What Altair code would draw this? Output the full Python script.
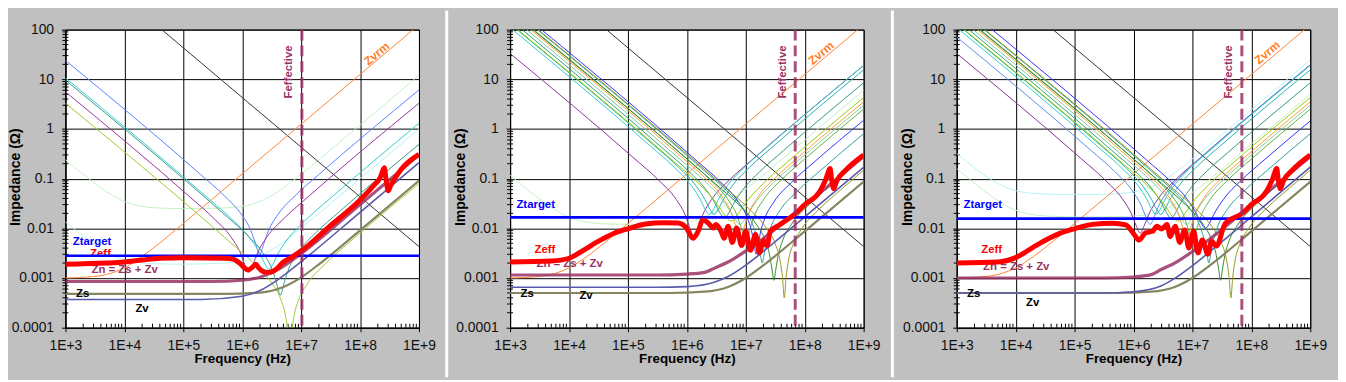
import altair as alt
import pandas as pd

FONT = "Liberation Sans"
W, H = 357, 301
TOP_EXT, BOT_EXT = 19.3, 50

# ---------------- axis ticks ----------------
X_DECADES = [1e3, 1e4, 1e5, 1e6, 1e7, 1e8, 1e9]
Y_DECADES = [1e-4, 1e-3, 1e-2, 1e-1, 1, 10, 100]
X_MINOR = [m * 10.0 ** e for e in range(3, 9) for m in range(2, 10)]
Y_MINOR = [m * 10.0 ** e for e in range(-4, 2) for m in range(2, 10)]

# ---------------- shared curves (f [Hz], |Z| [ohm]) ----------------
BLACK = [(4.3e4, 100), (1e9, 0.0043)]
ZVRM = [(1e3, 0.001), (3e3, 0.00107), (5e3, 0.00118), (1e4, 0.0016), (2e4, 0.0027),
        (4e4, 0.0051), (1e5, 0.0125), (1e6, 0.125), (8e8, 100)]

# ---------------- panel 1 ----------------
P1_BLUE = [(1e3, 24), (1.98e5, 0.12), (4.95e5, 0.0455), (9.9e5, 0.0184), (1.39e6, 0.0093), (1.68e6, 0.005),
           (1.98e6, 0.003), (2.34e6, 0.005), (2.77e6, 0.0088), (3.96e6, 0.0184), (7.92e6, 0.0455),
           (1.98e7, 0.12), (1e9, 6.1)]
P1_CYAN = [(1e3, 10.7), (2.87e5, 0.0369), (7.18e5, 0.0141), (1.43e6, 0.0058), (2.0e6, 0.0031),
           (2.44e6, 0.0019), (2.87e6, 0.0015), (3.39e6, 0.002), (4.0e6, 0.003), (5.74e6, 0.0058),
           (1.148e7, 0.0141), (2.87e7, 0.0369), (1e9, 1.3)]
P1_TEAL = [(1e3, 9.6), (4.43e5, 0.0215), (1.108e6, 0.00814), (2.2e6, 0.0033), (3.1e6, 0.00164),
           (3.77e6, 0.00084), (4.12e6, 0.00055), (4.43e6, 0.00045), (4.74e6, 0.00054), (5.23e6, 0.00085),
           (6.2e6, 0.00156), (8.86e6, 0.0033), (1.772e7, 0.00814), (4.43e7, 0.0215), (1e9, 0.49)]
P1_PURPLE = [(1e3, 5.6), (1.3e5, 0.0426), (3.25e5, 0.0161), (6.5e5, 0.0066), (9.1e5, 0.0034), (1.1e6, 0.0019),
             (1.3e6, 0.0013), (1.53e6, 0.0019), (1.82e6, 0.0032), (2.6e6, 0.0066), (5.2e6, 0.0161),
             (1.3e7, 0.0426), (1e9, 3.3)]
P1_YGREEN = [(1e3, 3.3), (6.42e5, 0.00509), (1.605e6, 0.00193), (3.21e6, 0.00077), (4.5e6, 0.000375),
             (5.46e6, 0.000168), (5.97e6, 0.0000805), (6.42e6, 0.00003), (6.87e6, 0.0000758),
             (7.58e6, 0.000171), (8.99e6, 0.000353), (1.28e7, 0.00077), (2.568e7, 0.00193),
             (6.42e7, 0.00509), (1e9, 0.08)]
P1_PALEGREEN = [(1e3, 0.24), (2e3, 0.1226), (4e3, 0.065), (1e4, 0.0347), (2e4, 0.0277), (4e4, 0.0256),
                (1e5, 0.025), (3e5, 0.0252), (1e6, 0.0277), (2e6, 0.0347), (4e6, 0.0541), (1e7, 0.1226),
                (3e7, 0.361), (1e9, 12)]
P1_PALECYAN = [(1e3, 0.0135), (2e3, 0.007), (4e3, 0.0039), (1e4, 0.0023), (3e4, 0.00195), (1e5, 0.0019),
               (5e5, 0.002), (1e6, 0.00215), (2e6, 0.0028), (4e6, 0.0044), (1e7, 0.0102), (1e8, 0.1),
               (1e9, 1.0)]
P1_ZS = [(1e3, 0.00048), (5e5, 0.00048), (2e6, 0.00051), (5e6, 0.00066), (1e7, 0.00103), (2e7, 0.00188),
         (1e8, 0.0091), (1e9, 0.091)]
P1_ZV = [(1e3, 0.00037), (2e5, 0.00037), (1e6, 0.00043), (2e6, 0.00056), (4e6, 0.00092), (1e7, 0.00213),
         (1e8, 0.021), (1e9, 0.21)]
P1_ZN = [(1e3, 0.00085), (3e5, 0.00085), (1e6, 0.0009), (2e6, 0.00104), (4e6, 0.00147), (1e7, 0.0031),
         (1e8, 0.03), (1e9, 0.3)]
P1_ZEFF = [(1e3, 0.0019), (5e3, 0.002), (1e4, 0.0021), (2e4, 0.0023), (4e4, 0.0025), (1e5, 0.00255),
           (5e5, 0.0025), (7e5, 0.0024), (9e5, 0.002), (1.1e6, 0.0016), (1.25e6, 0.00145), (1.45e6, 0.0016),
           (1.7e6, 0.0019), (1.9e6, 0.0016), (2.3e6, 0.00134), (2.8e6, 0.0013), (3.4e6, 0.00138),
           (4e6, 0.0016), (5e6, 0.0021), (6.5e6, 0.0025), (1.03e7, 0.0036), (3e7, 0.0108), (1e8, 0.037),
           (1.74e8, 0.075), (2.2e8, 0.105), (2.58e8, 0.166), (2.75e8, 0.1), (3.0e8, 0.057), (3.3e8, 0.072),
           (5e8, 0.155), (1e9, 0.31)]
P1_ZTARGET = 0.0028
P1_FEFF = 1.03e7

# ---------------- capacitor bundle shared by panels 2 and 3 ----------------
B_CYAN1 = [(1.1e3, 100), (2.41e5, 0.452), (6.03e5, 0.172), (1.205e6, 0.0712), (1.687e6, 0.0383),
           (2.05e6, 0.0241), (2.41e6, 0.019), (2.84e6, 0.0243), (3.37e6, 0.0367), (4.82e6, 0.0712),
           (9.64e6, 0.172), (2.41e7, 0.452), (1e9, 19)]
B_CYAN2 = [(1.3e3, 100), (2.9e5, 0.4445), (7.25e5, 0.1695), (1.45e6, 0.07), (2.03e6, 0.0378),
           (2.47e6, 0.024), (2.9e6, 0.019), (3.42e6, 0.0242), (4.06e6, 0.0362), (5.8e6, 0.07),
           (1.16e7, 0.1695), (2.9e7, 0.4445), (1e9, 15.5)]
B_TEAL = [(1.6e3, 100), (4.34e5, 0.365), (1.085e6, 0.1393), (2.17e6, 0.0576), (3.04e6, 0.0313),
          (3.69e6, 0.02), (4.34e6, 0.016), (5.12e6, 0.0202), (6.08e6, 0.03), (8.68e6, 0.0576),
          (1.736e7, 0.1393), (4.34e7, 0.365), (1e9, 8.5)]
B_YGREEN = [(1.35e3, 100), (5.6e5, 0.2386), (1.4e6, 0.0915), (2.8e6, 0.0388), (3.92e6, 0.0225),
            (4.76e6, 0.0161), (5.6e6, 0.014), (6.61e6, 0.0161), (7.84e6, 0.0217), (1.12e7, 0.0388),
            (2.24e7, 0.0915), (5.6e7, 0.2386), (1e9, 4.3)]
B_ORANGE = [(2.24e3, 100), (8e5, 0.2772), (2e6, 0.105), (4e6, 0.0424), (5.6e6, 0.0211), (6.8e6, 0.0107),
            (8e6, 0.0055), (9.44e6, 0.0108), (1.12e7, 0.02), (1.6e7, 0.0424), (3.2e7, 0.105),
            (8e7, 0.2772), (1e9, 3.5)]
B_GREEN = [(2.5e3, 100), (1e6, 0.2475), (2.5e6, 0.0938), (5e6, 0.0378), (7e6, 0.0189), (8.5e6, 0.0096),
           (1e7, 0.005), (1.18e7, 0.0097), (1.4e7, 0.0179), (2e7, 0.0378), (4e7, 0.0938), (1e8, 0.2475),
           (1e9, 2.5)]
B_BLUE = [(3.4e3, 100), (1.5e6, 0.2237), (3.75e6, 0.0848), (7.5e6, 0.034), (1.05e7, 0.0167),
          (1.275e7, 0.008), (1.395e7, 0.00445), (1.5e7, 0.003), (1.605e7, 0.00429), (1.77e7, 0.0081),
          (2.1e7, 0.0158), (3e7, 0.034), (6e7, 0.0848), (1.5e8, 0.2237), (1e9, 1.5)]
B_BLUE2 = [(4e3, 100), (1.66e6, 0.2386), (4.15e6, 0.091), (8.3e6, 0.0376), (1.16e7, 0.0202),
           (1.41e7, 0.0127), (1.66e7, 0.01), (1.96e7, 0.0128), (2.32e7, 0.0193), (3.32e7, 0.0376),
           (6.64e7, 0.091), (1.66e8, 0.2386), (1e9, 1.45)]
B_TEAL2 = [(2.9e3, 100), (1.9e6, 0.1505), (4.75e6, 0.057), (9.5e6, 0.0229), (1.33e7, 0.0113),
           (1.615e7, 0.0053), (1.767e7, 0.003), (1.9e7, 0.002), (2.033e7, 0.00287), (2.24e7, 0.0054),
           (2.66e7, 0.0106), (3.8e7, 0.0229), (7.6e7, 0.057), (1.9e8, 0.1505), (1e9, 0.8)]
B_GREEN2 = [(2.43e3, 100), (3e6, 0.0802), (7.5e6, 0.0304), (1.5e7, 0.0122), (2.1e7, 0.006),
            (2.55e7, 0.0028), (2.79e7, 0.00148), (3e7, 0.0009), (3.21e7, 0.00142), (3.54e7, 0.0028),
            (4.2e7, 0.0056), (6e7, 0.0122), (1.2e8, 0.0304), (3e8, 0.0802), (1e9, 0.27)]
B_OLIVE = [(3e3, 100), (4.5e6, 0.0659), (1.125e7, 0.025), (2.25e7, 0.01), (3.15e7, 0.0049),
           (3.83e7, 0.0022), (4.185e7, 0.00105), (4.5e7, 0.0004), (4.815e7, 0.00099), (5.31e7, 0.0023),
           (6.3e7, 0.0046), (9e7, 0.01), (1.8e8, 0.025), (4.5e8, 0.0659), (1e9, 0.148)]
B_SEAGREEN = [(1.9e3, 100), (7.96e5, 0.2366), (1.99e6, 0.0904), (3.98e6, 0.0378), (5.57e6, 0.0212),
              (6.77e6, 0.0143), (7.96e6, 0.012), (9.39e6, 0.0144), (1.114e7, 0.0203), (1.59e7, 0.0378),
              (3.184e7, 0.0904), (7.96e7, 0.2366), (1e9, 3)]

# ---------------- panel 2 ----------------
P2_PURPLE = [(1e3, 33), (1.318e5, 0.2475), (3.295e5, 0.094), (6.59e5, 0.0381), (9.23e5, 0.0194),
             (1.12e6, 0.0104), (1.318e6, 0.0065), (1.555e6, 0.0106), (1.845e6, 0.0183), (2.636e6, 0.0381),
             (5.272e6, 0.094), (1.318e7, 0.2475), (1e9, 19)]
P2_PALEGREEN = [(1e3, 0.1176), (2e3, 0.0597), (4e3, 0.0316), (1e4, 0.0168), (2e4, 0.0133), (5e4, 0.0122),
                (1e5, 0.012), (3e5, 0.0121), (1e6, 0.0134), (2e6, 0.017), (4e6, 0.0268), (1e7, 0.0612),
                (1e8, 0.6), (1e9, 6)]
P2_ZS = [(1e3, 0.0005), (5e5, 0.0005), (2e6, 0.00053), (5e6, 0.00066), (1e7, 0.001), (2e7, 0.00181),
         (1e8, 0.0087), (1e9, 0.087)]
P2_ZV = [(1e3, 0.00065), (3e5, 0.00065), (1e6, 0.00067), (3e6, 0.00083), (5e6, 0.00107), (1e7, 0.00182),
         (2e7, 0.00346), (1e8, 0.017), (1e9, 0.17)]
P2_ZN = [(1e3, 0.00115), (3e5, 0.00115), (1e6, 0.0012), (2e6, 0.0013), (3e6, 0.0016), (5e6, 0.0021),
         (1e7, 0.0035), (2e7, 0.0063), (1e8, 0.029), (1e9, 0.28)]
P2_ZEFF = [(1e3, 0.0021), (5e3, 0.0022), (1e4, 0.0025), (1.55e4, 0.0033), (2.9e4, 0.0052), (5.6e4, 0.0078),
           (1e5, 0.0098), (2e5, 0.0122), (4e5, 0.013), (7e5, 0.0128), (9.8e5, 0.0102), (1.27e6, 0.0063),
           (1.55e6, 0.0087), (1.87e6, 0.0148), (2.3e6, 0.0128), (2.8e6, 0.0102), (3.1e6, 0.0119),
           (3.8e6, 0.0087), (4.3e6, 0.0063), (5.0e6, 0.011), (5.9e6, 0.0052), (7.0e6, 0.0102),
           (8.5e6, 0.0045), (1.0e7, 0.0087), (1.2e7, 0.0036), (1.46e7, 0.0075), (1.7e7, 0.0032),
           (2.0e7, 0.0056), (2.3e7, 0.0045), (2.6e7, 0.0087), (3.6e7, 0.0114), (7e7, 0.02), (1e8, 0.03),
           (1.8e8, 0.055), (2.3e8, 0.1), (2.7e8, 0.16), (2.85e8, 0.1), (3.1e8, 0.063), (3.5e8, 0.09),
           (5e8, 0.15), (1e9, 0.3)]
P2_ZTARGET = 0.0166
P2_FEFF = 6.9e7

# ---------------- panel 3 ----------------
P3_PURPLE = [(1e3, 33), (1.3e5, 0.2515), (3.25e5, 0.0956), (6.5e5, 0.0389), (9.1e5, 0.0202),
             (1.105e6, 0.0115), (1.3e6, 0.008), (1.534e6, 0.0116), (1.82e6, 0.0192), (2.6e6, 0.0389),
             (5.2e6, 0.0956), (1.3e7, 0.2515), (1e9, 19.5)]
P3_BLUE = [(1e3, 71), (1.91e5, 0.368), (4.775e5, 0.14), (9.55e5, 0.0571), (1.34e6, 0.0296), (1.62e6, 0.0171),
           (1.91e6, 0.012), (2.25e6, 0.0172), (2.67e6, 0.0282), (3.82e6, 0.0571), (7.64e6, 0.14),
           (1.91e7, 0.368), (1e9, 19.5)]
P3_PALECYAN = [(1e3, 0.32), (2e3, 0.165), (4e3, 0.0924), (1e4, 0.0575), (2e4, 0.0505), (5e4, 0.0483),
               (1e5, 0.048), (3e5, 0.0484), (1e6, 0.0539), (2e6, 0.0686), (4e6, 0.109), (1e7, 0.25),
               (1e8, 2.45), (1e9, 24.5)]
P3_PALEGREEN = [(1e3, 0.159), (2e3, 0.081), (4e3, 0.043), (1e4, 0.0232), (2e4, 0.0187), (5e4, 0.0173),
                (1e5, 0.017), (3e5, 0.017), (1e6, 0.0177), (2e6, 0.0197), (4e6, 0.0262), (1e7, 0.0528),
                (1e8, 0.5), (1e9, 5)]
P3_ZS = [(1e3, 0.0005), (5e5, 0.0005), (2e6, 0.00053), (5e6, 0.00066), (1e7, 0.001), (2e7, 0.00181),
         (1e8, 0.0087), (1e9, 0.087)]
P3_ZV = [(1e3, 0.0005), (3e5, 0.0005), (1e6, 0.00053), (3e6, 0.0007), (5e6, 0.00098), (1e7, 0.00177),
         (2e7, 0.00344), (1e8, 0.017), (1e9, 0.17)]
P3_ZN = [(1e3, 0.001), (3e5, 0.001), (1e6, 0.00105), (2e6, 0.00117), (3e6, 0.0015), (5e6, 0.002),
         (1e7, 0.0034), (2e7, 0.0062), (1e8, 0.029), (1e9, 0.28)]
P3_ZEFF = [(1e3, 0.002), (5e3, 0.0021), (1.02e4, 0.0026), (1.95e4, 0.0041), (3.7e4, 0.0063), (5.6e4, 0.0079),
           (9.9e4, 0.0098), (2e5, 0.012), (4.4e5, 0.0127), (7.4e5, 0.0117), (1.03e6, 0.0075), (1.24e6, 0.0058),
           (1.6e6, 0.0081), (2.1e6, 0.0087), (2.5e6, 0.011), (3.0e6, 0.0097), (3.7e6, 0.0119), (4.2e6, 0.0068),
           (5.1e6, 0.011), (6.1e6, 0.0052), (7.4e6, 0.0093), (8.7e6, 0.004), (1.05e7, 0.0087), (1.24e7, 0.0032),
           (1.47e7, 0.0058), (1.83e7, 0.003), (2.1e7, 0.0055), (2.55e7, 0.0044), (3.6e7, 0.0125), (7e7, 0.02),
           (1e8, 0.03), (1.8e8, 0.055), (2.3e8, 0.1), (2.7e8, 0.16), (2.85e8, 0.1), (3.1e8, 0.063),
           (3.5e8, 0.09), (5e8, 0.15), (1e9, 0.3)]
P3_ZTARGET = 0.0157
P3_FEFF = 6.9e7

# ---------------- annotations (text, f, |Z|) ----------------
P1_LABELS = [("Ztarget", 1.33e3, 0.0053), ("Zeff", 2.62e3, 0.0031), ("Zn = Zs + Zv", 2.77e3, 0.00145),
             ("Zs", 1.51e3, 0.00048), ("Zv", 1.54e4, 0.00024)]
P2_LABELS = [("Ztarget", 1.28e3, 0.0296), ("Zeff", 2.6e3, 0.0037), ("Zn = Zs + Zv", 2.8e3, 0.0019),
             ("Zs", 1.5e3, 0.00048), ("Zv", 1.5e4, 0.00043)]
P3_LABELS = [("Ztarget", 1.3e3, 0.029), ("Zeff", 2.6e3, 0.0036), ("Zn = Zs + Zv", 2.8e3, 0.0017),
             ("Zs", 1.5e3, 0.00048), ("Zv", 1.5e4, 0.00032)]
P1_FEFF_LABEL = (6.27e6, 14.1)
P2_FEFF_LABEL = (4.23e7, 14.0)
P3_FEFF_LABEL = (4.26e7, 14.0)
P1_ZVRM_LABEL = (1.92e8, 32.7)
P2_ZVRM_LABEL = (1.9e8, 33.8)
P3_ZVRM_LABEL = (1.86e8, 34.4)

# ---------------- styles ----------------
LABEL_COLORS = {"Ztarget": "#0000ff", "Zeff": "#ff0000", "Zn = Zs + Zv": "#993366", "Zs": "#000000", "Zv": "#000000"}
RED, MAUVE, TARGET_BLUE = "#ff0000", "#993366", "#0000ff"

xscale = alt.Scale(type="log", domain=[1e3, 1e9], nice=False)
yscale = alt.Scale(type="log", domain=[1e-4, 100], nice=False)

COMMON_AXIS = dict(grid=True, gridColor="black", gridOpacity=1, gridWidth=1, domainColor="black",
                   tickColor="black", tickSize=4, labelFont=FONT, labelFontSize=14, labelColor="#111111",
                   titleFont=FONT, titleFontWeight="bold", titleColor="black",
                   labelOverlap=False, labelFlush=False)
XA = alt.Axis(values=X_DECADES, labelExpr="'1E+' + round(log(datum.value) / LN10)",
              title="Frequency (Hz)", labelPadding=7, titleBaseline="middle", titleY=31.5,
              titleX=W / 2, titleFontSize=13.5, **COMMON_AXIS)
YA = alt.Axis(values=Y_DECADES, format="~g", title="Impedance (\u03a9)", labelPadding=8,
              titleBaseline="middle", titleX=-50, titleY=H / 2 - 2, titleAngle=270, titleFontSize=14.2,
              **COMMON_AXIS)


def X(field="f"):
    return alt.X(f"{field}:Q", scale=xscale, axis=XA)


def Y(field="z"):
    return alt.Y(f"{field}:Q", scale=yscale, axis=YA)


def curve_df(items):
    rows = []
    for name, pts, col in items:
        for k, (f, z) in enumerate(pts):
            rows.append({"name": name, "f": f, "z": z, "col": col, "k": k})
    return pd.DataFrame(rows)


def lines(items, width, opacity=1.0):
    return alt.Chart(curve_df(items)).mark_line(
        clip=True, interpolate="monotone", strokeWidth=width, opacity=opacity
    ).encode(x=X(), y=Y(), color=alt.Color("col:N", scale=None), detail="name:N", order="k:Q")


def panel(thin, zs, zv, zn, zeff, ztarget, feff, labels, feff_lab, zvrm_lab, left, right, strip):
    layers = []
    layers.append(alt.Chart(pd.DataFrame({"a": [0]})).mark_rect(opacity=0).encode(
        x=alt.value(-left), x2=alt.value(W + right), y=alt.value(-TOP_EXT), y2=alt.value(H + BOT_EXT)))
    if strip:
        layers.append(alt.Chart(pd.DataFrame({"a": [0]})).mark_rect(color="white").encode(
            x=alt.value(-left), x2=alt.value(-left + 3), y=alt.value(-TOP_EXT), y2=alt.value(H + BOT_EXT)))
    layers.append(alt.Chart(pd.DataFrame({"f": X_DECADES, "z": Y_DECADES})).mark_point(opacity=0).encode(
        x=X(), y=Y()))
    layers.append(alt.Chart(pd.DataFrame({"f": X_MINOR})).mark_rule(color="black", strokeWidth=1).encode(
        x=X(), y=alt.value(H), y2=alt.value(H - 4)))
    layers.append(alt.Chart(pd.DataFrame({"z": Y_MINOR})).mark_rule(color="black", strokeWidth=1).encode(
        y=Y(), x=alt.value(-3), x2=alt.value(3)))
    layers.append(lines(thin, 1))
    layers.append(lines([("zs", zs, "#86855f")], 2.2))
    layers.append(lines([("zv", zv, "#5a5aad")], 1.6))
    lab_df = pd.DataFrame([{"t": t, "f": f, "z": z, "col": LABEL_COLORS[t]} for t, f, z in labels])
    layers.append(alt.Chart(lab_df).mark_text(font=FONT, fontWeight="bold", fontSize=11.5, align="left",
                                               baseline="middle").encode(
        x=X(), y=Y(), text="t:N", color=alt.Color("col:N", scale=None)))
    layers.append(alt.Chart(pd.DataFrame({"t": ["Zvrm"], "f": [zvrm_lab[0]], "z": [zvrm_lab[1]]})).mark_text(
        font=FONT, fontWeight="bold", fontSize=12, angle=320, align="center", baseline="middle",
        color="#ff7f27").encode(x=X(), y=Y(), text="t:N"))
    layers.append(alt.Chart(pd.DataFrame({"t": ["Feffective"], "f": [feff_lab[0]], "z": [feff_lab[1]]})).mark_text(
        font=FONT, fontWeight="bold", fontSize=11.5, angle=270, align="center", baseline="middle",
        color=MAUVE).encode(x=X(), y=Y(), text="t:N"))
    layers.append(lines([("zn", zn, MAUVE)], 3.2, 0.85))
    layers.append(alt.Chart(pd.DataFrame({"z": [ztarget]})).mark_rule(color=TARGET_BLUE, strokeWidth=2.6).encode(y=Y()))
    layers.append(lines([("zeff", zeff, RED)], 5))
    layers.append(alt.Chart(pd.DataFrame({"f": [feff]})).mark_rule(
        color=MAUVE, strokeWidth=3, strokeDash=[11, 5], opacity=0.85).encode(x=X()))
    return alt.layer(*layers).properties(width=W, height=H)


P1_THIN = [("pg", P1_PALEGREEN, "#c2f2c2"), ("pc", P1_PALECYAN, "#b8f2f2"), ("black", BLACK, "#333333"),
           ("zvrm", ZVRM, "#ff8533"), ("blue", P1_BLUE, "#5b7fff"), ("cyan", P1_CYAN, "#33cccc"),
           ("teal", P1_TEAL, "#3d9a8a"), ("purple", P1_PURPLE, "#993399"), ("yg", P1_YGREEN, "#9acd32")]

P2_THIN = [("pg", P2_PALEGREEN, "#c2f2c2"), ("black", BLACK, "#333333"), ("zvrm", ZVRM, "#ff8533"),
           ("purple", P2_PURPLE, "#8a3399"), ("c1", B_CYAN1, "#33cccc"), ("c2", B_CYAN2, "#2ab0b0"),
           ("teal", B_TEAL, "#339980"), ("yg", B_YGREEN, "#99cc00"), ("sg", B_SEAGREEN, "#7ccf9e"),
           ("or", B_ORANGE, "#ff9933"), ("gr", B_GREEN, "#5fb043"), ("bl", B_BLUE, "#3333ff"),
           ("t2", B_TEAL2, "#2f9f9f"), ("g2", B_GREEN2, "#2e8b2e"), ("ol", B_OLIVE, "#999922")]

P3_THIN = [("pc", P3_PALECYAN, "#b8f2f2"), ("pg", P3_PALEGREEN, "#c2f2c2"), ("black", BLACK, "#333333"),
           ("zvrm", ZVRM, "#ff8533"), ("purple", P3_PURPLE, "#8a3399"), ("blue1", P3_BLUE, "#5b8def"),
           ("c1", B_CYAN1, "#33cccc"), ("c2", B_CYAN2, "#2ab0b0"), ("teal", B_TEAL, "#339980"),
           ("yg", B_YGREEN, "#99cc00"), ("sg", B_SEAGREEN, "#7ccf9e"), ("or", B_ORANGE, "#ff9933"),
           ("gr", B_GREEN, "#5fb043"), ("bl", B_BLUE2, "#3333ff"), ("t2", B_TEAL2, "#2f9f9f"),
           ("g2", B_GREEN2, "#2e8b2e"), ("ol", B_OLIVE, "#999922")]

p1 = panel(P1_THIN, P1_ZS, P1_ZV, P1_ZN, P1_ZEFF, P1_ZTARGET, P1_FEFF, P1_LABELS, P1_FEFF_LABEL,
           P1_ZVRM_LABEL, 56.3, 25, False)
p2 = panel(P2_THIN, P2_ZS, P2_ZV, P2_ZN, P2_ZEFF, P2_ZTARGET, P2_FEFF, P2_LABELS, P2_FEFF_LABEL,
           P2_ZVRM_LABEL, 65.5, 26.5, True)
p3 = panel(P3_THIN, P3_ZS, P3_ZV, P3_ZN, P3_ZEFF, P3_ZTARGET, P3_FEFF, P3_LABELS, P3_FEFF_LABEL,
           P3_ZVRM_LABEL, 66.5, 27, True)

chart = alt.hconcat(p1, p2, p3, spacing=0).properties(padding=0).configure(
    background="#c0c0c0"
).configure_view(fill="white", stroke="black", strokeWidth=1)

chart.save("out.html", embed_options={"renderer": "svg", "actions": False})
